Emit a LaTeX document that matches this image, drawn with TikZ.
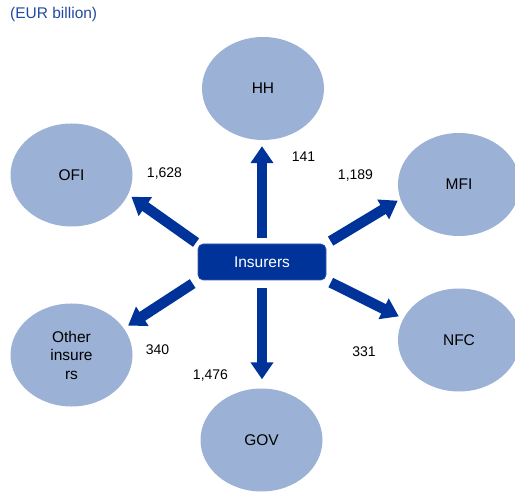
\documentclass[tikz,border=0pt]{standalone}
\usepackage{fontspec}
\setmainfont{Liberation Sans}
\usetikzlibrary{arrows.meta,shapes.geometric}
\definecolor{ellfill}{RGB}{155,177,214}
\definecolor{arrblue}{RGB}{0,51,153}
\definecolor{titleblue}{RGB}{32,74,160}
\begin{document}
\begin{tikzpicture}[x=1pt,y=1pt,
  sector/.style={ellipse, fill=ellfill, minimum width=122pt, minimum height=103pt, inner sep=0pt, font=\fontsize{15.5}{18.5}\selectfont, align=center},
  insbox/.style={rectangle, rounded corners=5pt, fill=arrblue, draw=arrblue!80!white, line width=0.6pt, minimum width=128pt, minimum height=36pt, inner sep=0pt, text=white, font=\fontsize{15.5}{18}\selectfont},
  val/.style={font=\fontsize{14}{16}\selectfont, inner sep=0pt},
  flow/.style={draw=arrblue, line width=10.5pt, -{Triangle[length=17pt,width=22pt]}}]
\useasboundingbox (0,0) rectangle (515,491);
\clip (0,0) rectangle (515,491);
\node[anchor=west, text=titleblue, font=\fontsize{15.5}{18}\selectfont, inner sep=0pt] (title) at (10,477) {(EUR billion)};
\node[sector] (hh) at (263,402.5) {HH};
\node[sector] (ofi) at (71.5,316) {OFI};
\node[sector] (mfi) at (459,306.5) {MFI};
\node[sector] (nfc) at (459,151) {NFC};
\node[sector] (oth) at (71.5,136) {Other\\insure\\rs};
\node[sector] (gov) at (261.5,51) {GOV};
\node[insbox] (ins) at (262,229) {Insurers};
\draw[flow, shorten <=6pt, shorten >=6pt] (ins.north) -- (ins.north |- hh.south);
\draw[flow, shorten <=8pt, shorten >=9pt] (ins.south) -- (ins.south |- gov.north);
\draw[flow, shorten <=2pt, shorten >=4pt] (ins.north west) -- (ofi.-19);
\draw[flow, shorten <=6pt, shorten >=5pt] (ins.south west) -- (oth.27);
\draw[flow, shorten <=5pt, shorten >=3pt] (ins.north east) -- (mfi.194);
\draw[flow, shorten <=5pt, shorten >=5pt] (ins.south east) -- (nfc.159);
\node[val] (v1) at (164.5,317) {1,628};
\node[val] (v2) at (157.5,141.5) {340};
\node[val] (v3) at (210.5,115.5) {1,476};
\node[val] (v4) at (303.5,334) {141};
\node[val] (v5) at (355.5,315) {1,189};
\node[val] (v6) at (364,139) {331};
\end{tikzpicture}
\end{document}
